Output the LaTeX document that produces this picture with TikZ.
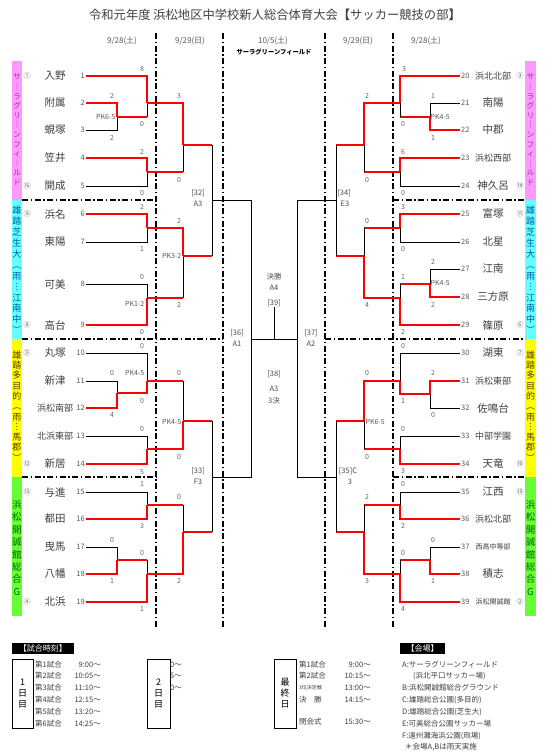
\documentclass[tikz,border=0pt]{standalone}
\usepackage{fontspec}
\setmainfont{Noto Sans CJK JP}
\usetikzlibrary{positioning}
\definecolor{pinkbar}{RGB}{255,153,255}
\definecolor{cyanbar}{RGB}{102,255,255}
\definecolor{yellowbar}{RGB}{255,255,0}
\definecolor{greenbar}{RGB}{102,255,51}
\definecolor{pinktxt}{RGB}{150,50,150}
\definecolor{cyantxt}{RGB}{0,90,170}
\definecolor{yellowtxt}{RGB}{90,60,0}
\definecolor{greentxt}{RGB}{0,100,0}
% loser of a played match: red run in, black rise
\newcommand{\lostto}[2]{\draw[win] (#1) -- (#1 -| #2); \draw[lose] (#1 -| #2) -- (#2);}
\begin{document}
\begin{tikzpicture}[x=1pt,y=-1pt,
  win/.style={draw=red,line width=2.2pt},
  lose/.style={draw=black,line width=0.8pt},
  sep/.style={line width=1.6pt,dash pattern=on 6pt off 2.5pt on 1.5pt off 2.5pt},
  tname/.style={font=\fontsize{10.5}{12}\selectfont,text=black!75},
  tnum/.style={font=\fontsize{7.5}{9}\selectfont,text=black!65,inner sep=1pt},
  score/.style={font=\fontsize{7}{8}\selectfont,text=black!60,inner sep=0pt},
  pk/.style={font=\fontsize{7}{8}\selectfont,text=black!65,inner sep=0.5pt},
  seed/.style={font=\fontsize{7}{8}\selectfont,text=black!60,inner sep=0pt},
  date/.style={font=\fontsize{8}{9}\selectfont,text=black!65},
  lbl/.style={font=\fontsize{7.5}{9}\selectfont,text=black!70,inner sep=0pt},
  vbar/.style={align=center,inner sep=0pt},
  hdr/.style={fill=black,text=white,inner sep=0pt,minimum height=11pt,font=\fontsize{8}{9}\selectfont},
  daybox/.style={draw,line width=1pt,align=center,inner sep=0pt,font=\fontsize{9}{11}\selectfont},
  row/.style={font=\fontsize{7.5}{9}\selectfont,text=black!75,inner sep=0pt}]
\useasboundingbox (0,0) rectangle (549,753);
\fill[white] (0,0) rectangle (549,753);

% side bars
\fill[pinkbar] (12,61) rectangle (22,200);
\fill[cyanbar] (12,200) rectangle (22,339);
\fill[yellowbar] (12,339) rectangle (22,477);
\fill[greenbar] (12,477) rectangle (22,616);
\fill[pinkbar] (525,61) rectangle (536,200);
\fill[cyanbar] (525,200) rectangle (536,339);
\fill[yellowbar] (525,339) rectangle (536,477);
\fill[greenbar] (525,477) rectangle (536,616);

\node[vbar,text=pinktxt,font=\fontsize{7.5}{9.6}\selectfont] (vl1) at (17,130) {サ\\｜\\ラ\\グ\\リ\\｜\\ン\\フ\\ィ\\｜\\ル\\ド};
\node[vbar,text=cyantxt,font=\fontsize{9}{10.9}\selectfont] (vl2) at (17,270) {雄\\踏\\芝\\生\\大\\︵\\雨\\︙\\江\\南\\中\\︶};
\node[vbar,text=yellowtxt,font=\fontsize{9}{10.3}\selectfont] (vl3) at (17,406) {雄\\踏\\多\\目\\的\\︵\\雨\\︙\\馬\\郡\\︶};
\node[vbar,text=greentxt,font=\fontsize{9.5}{12.4}\selectfont] (vl4) at (17,548) {浜\\松\\開\\誠\\館\\総\\合\\G};
\node[vbar,text=pinktxt,font=\fontsize{7.5}{9.6}\selectfont] (vr1) at (530.5,130) {サ\\｜\\ラ\\グ\\リ\\｜\\ン\\フ\\ィ\\｜\\ル\\ド};
\node[vbar,text=cyantxt,font=\fontsize{9}{10.9}\selectfont] (vr2) at (530.5,270) {雄\\踏\\芝\\生\\大\\︵\\雨\\︙\\江\\南\\中\\︶};
\node[vbar,text=yellowtxt,font=\fontsize{9}{10.3}\selectfont] (vr3) at (530.5,406) {雄\\踏\\多\\目\\的\\︵\\雨\\︙\\馬\\郡\\︶};
\node[vbar,text=greentxt,font=\fontsize{9.5}{12.4}\selectfont] (vr4) at (530.5,548) {浜\\松\\開\\誠\\館\\総\\合\\G};

% field separators
\foreach \x in {156,223,325,393} \draw[sep] (\x,33) -- (\x,628);
\draw[sep] (22,200) -- (156,200);
\draw[sep] (22,339) -- (223,339);
\draw[sep] (22,477) -- (156,477);
\draw[sep] (393,200) -- (525,200);
\draw[sep] (325,339) -- (525,339);
\draw[sep] (393,477) -- (525,477);

% title and days
\node[font=\fontsize{12.3}{14}\selectfont,text=black!75] (title) at (275,15) {令和元年度 浜松地区中学校新人総合体育大会{\bfseries【}サッカー競技の部{\bfseries】}};
\node[date] (d1) at (122,41) {9/28(土)};
\node[date] (d2) at (190,41) {9/29(日)};
\node[date] (d3) at (273,41) {10/5(土)};
\node[date] (d4) at (358,41) {9/29(日)};
\node[date] (d5) at (426,41) {9/28(土)};
\node[font=\bfseries\fontsize{6.3}{7}\selectfont] (field) at (274,52) {サーラグリーンフィールド};

% teams
\foreach \i/\nm/\y in {1/入野/76,2/附属/103,3/蜆塚/130,4/笠井/158,5/開成/186,6/浜名/214,7/東陽/242,8/可美/284,9/高台/325,10/丸塚/353,11/新津/381,12/{\small 浜松南部}/408,13/{\small 北浜東部}/436,14/新居/464,15/与進/492,16/都田/519,17/曳馬/547,18/八幡/574,19/北浜/602}
{
  \node[tname] (t\i) at (55,\y) {\nm};
  \node[tnum,anchor=east] (n\i) at (86,\y) {\i};
}
\foreach \i/\nm/\y in {20/{\small 浜北北部}/76,21/南陽/103,22/中郡/130,23/{\small 浜松西部}/158,24/神久呂/186,25/富塚/214,26/北星/242,27/江南/269,28/三方原/297,29/篠原/325,30/湖東/353,31/{\small 浜松東部}/381,32/佐鳴台/408,33/{\small 中部学園}/436,34/天竜/464,35/江西/492,36/{\small 浜松北部}/519,37/{\scriptsize 西高中等部}/547,38/積志/574,39/{\scriptsize 浜松開誠館}/602}
{
  \node[tname] (t\i) at (493,\y) {\nm};
  \node[tnum,anchor=west] (n\i) at (460,\y) {\i};
}
\foreach \s/\y [count=\k] in {①/76,⑯/186,⑨/214,⑧/325,⑤/353,⑫/464,⑬/492,④/602}
  \node[seed] (sdl\k) at (27,\y) {\s};
\foreach \s/\y [count=\k] in {③/76,⑭/186,⑪/214,⑥/325,⑦/353,⑩/464,⑮/492,②/602}
  \node[seed] (sdr\k) at (520,\y) {\s};

% match points
\coordinate (mA) at (117,117);
\coordinate (mB) at (147,103);
\coordinate (mC) at (147,172);
\coordinate (mD) at (183,145);
\coordinate (mE) at (147,228);
\coordinate (mF) at (147,298);
\coordinate (mG) at (183,256);
\coordinate (m32) at (212,200);
\coordinate (mH) at (117,393);
\coordinate (mI) at (147,381);
\coordinate (mJ) at (147,449);
\coordinate (mK) at (183,421);
\coordinate (mL) at (147,505);
\coordinate (mM) at (117,560);
\coordinate (mN) at (147,574);
\coordinate (mO) at (183,532);
\coordinate (m33) at (212,477);
\coordinate (m36) at (251,339);
\coordinate (rA) at (430,117);
\coordinate (rB) at (400,103);
\coordinate (rC) at (400,172);
\coordinate (rD) at (364,145);
\coordinate (rE) at (400,228);
\coordinate (rF0) at (430,284);
\coordinate (rF) at (400,298);
\coordinate (rG) at (364,256);
\coordinate (m34) at (336,200);
\coordinate (rH) at (430,394);
\coordinate (rI) at (400,381);
\coordinate (rJ) at (400,449);
\coordinate (rK) at (364,421);
\coordinate (rL) at (400,505);
\coordinate (rM) at (430,560);
\coordinate (rN) at (400,574);
\coordinate (rO) at (364,532);
\coordinate (m35) at (336,477);
\coordinate (m37) at (297,339);

% losers
\draw[lose] (n3.east) -| (mA);
\draw[lose] (n5.east) -| (mC);
\draw[lose] (n7.east) -| (mE);
\draw[lose] (n8.east) -| (mF);
\draw[lose] (n11.east) -| (mH);
\draw[lose] (n10.east) -| (mI);
\draw[lose] (n13.east) -| (mJ);
\draw[lose] (n15.east) -| (mL);
\draw[lose] (n17.east) -| (mM);
\draw[lose] (n21.west) -| (rA);
\draw[lose] (n24.west) -| (rC);
\draw[lose] (n26.west) -| (rE);
\draw[lose] (n27.west) -| (rF0);
\draw[lose] (n32.west) -| (rH);
\draw[lose] (n30.west) -| (rI);
\draw[lose] (n33.west) -| (rJ);
\draw[lose] (n35.west) -| (rL);
\draw[lose] (n37.west) -| (rM);
\draw[lose] (m32) -| (m36);
\draw[lose] (m33) -| (m36);
\draw[lose] (m34) -| (m37);
\draw[lose] (m35) -| (m37);
\draw[lose] (m36) -- (m37);
\lostto{mA}{mB}
\lostto{mC}{mD}
\lostto{mF}{mG}
\lostto{mD}{m32}
\lostto{mG}{m32}
\lostto{mI}{mK}
\lostto{mM}{mN}
\lostto{mL}{mO}
\lostto{mK}{m33}
\lostto{mO}{m33}
\lostto{rA}{rB}
\lostto{rC}{rD}
\lostto{rF0}{rF}
\lostto{rE}{rG}
\lostto{rD}{m34}
\lostto{rG}{m34}
\lostto{rJ}{rK}
\lostto{rM}{rN}
\lostto{rL}{rO}
\lostto{rK}{m35}
\lostto{rO}{m35}

% winners
\draw[win] (n2.east) -| (mA);
\draw[win] (n1.east) -| (mB);
\draw[win] (n4.east) -| (mC);
\draw[win] (mB) -| (mD);
\draw[win] (n6.east) -| (mE);
\draw[win] (n9.east) -| (mF);
\draw[win] (mE) -| (mG);
\draw[win] (n12.east) -| (mH);
\draw[win] (mH) -| (mI);
\draw[win] (n14.east) -| (mJ);
\draw[win] (mJ) -| (mK);
\draw[win] (n16.east) -| (mL);
\draw[win] (n18.east) -| (mM);
\draw[win] (n19.east) -| (mN);
\draw[win] (mN) -| (mO);
\draw[win] (n22.west) -| (rA);
\draw[win] (n20.west) -| (rB);
\draw[win] (n23.west) -| (rC);
\draw[win] (rB) -| (rD);
\draw[win] (n25.west) -| (rE);
\draw[win] (n28.west) -| (rF0);
\draw[win] (n29.west) -| (rF);
\draw[win] (rF) -| (rG);
\draw[win] (n31.west) -| (rH);
\draw[win] (rH) -| (rI);
\draw[win] (n34.west) -| (rJ);
\draw[win] (rI) -| (rK);
\draw[win] (n36.west) -| (rL);
\draw[win] (n38.west) -| (rM);
\draw[win] (n39.west) -| (rN);
\draw[win] (rN) -| (rO);

% scores
\foreach \x/\y/\s [count=\k] in {142/69/8,142/124/0,112/96/2,112/138/2,142/152/2,142/193/0,179/96/3,179/180/0,
  142/207/2,142/249/1,142/277/0,142/332/0,179/221/2,179/305/2,
  142/346/0,142/401/0,112/373/0,112/415/4,142/429/0,142/472/5,179/373/0,179/457/0,
  142/484/1,142/526/3,112/540/0,112/581/1,142/553/0,142/609/1,179/497/0,179/581/2}
  \node[score] (sl\k) at (\x,\y) {\s};
\foreach \x/\y/\s [count=\k] in {404/69/3,403/124/0,433/96/1,433/138/1,403/152/6,403/193/0,367/96/2,367/180/0,
  403/207/3,403/249/0,433/262/2,433/305/2,403/277/1,403/332/2,367/221/0,367/305/4,
  403/346/0,403/401/1,433/373/2,433/415/0,403/429/0,403/471/3,367/373/0,367/457/0,
  403/484/0,403/526/2,433/540/0,433/581/1,403/553/0,403/609/4,367/497/2,367/581/3}
  \node[score] (sr\k) at (\x,\y) {\s};

% penalty kicks
\node[pk,anchor=east] (pk1) at (116,117) {PK6-5};
\node[pk,anchor=east] (pk2) at (145,304) {PK1-2};
\node[pk,anchor=east] (pk3) at (182,256) {PK3-2};
\node[pk,anchor=east] (pk4) at (145,373) {PK4-5};
\node[pk,anchor=east] (pk5) at (182,422) {PK4-5};
\node[pk,anchor=west] (pk6) at (430,117) {PK4-5};
\node[pk,anchor=west] (pk7) at (430,283) {PK4-5};
\node[pk,anchor=west] (pk8) at (365,422) {PK6-5};

% later rounds
\node[lbl] (l32) at (198,193) {[32]};
\node[lbl] (l32b) at (198,204) {A3};
\node[lbl] (l33) at (198,471) {[33]};
\node[lbl] (l33b) at (198,482) {F3};
\node[lbl] (l34) at (344,193) {[34]};
\node[lbl] (l34b) at (345,204) {E3};
\node[lbl] (l35) at (348,471) {[35]C};
\node[lbl] (l35b) at (350,482) {3};
\node[lbl] (l36) at (237,333) {[36]};
\node[lbl] (l36b) at (237,344) {A1};
\node[lbl] (l37) at (311,333) {[37]};
\node[lbl] (l37b) at (311,344) {A2};
\node[lbl] (fin) at (274,277) {決勝};
\node[lbl] (finb) at (274,288) {A4};
\node[lbl] (l39) at (274,303) {[39]};
\draw[lose] (l39.south) -- (l39.south |- m36);
\node[lbl] (l38) at (274,374) {[38]};
\node[lbl] (l38b) at (274,389) {A3};
\node[lbl] (l38c) at (274,401) {3決};

% times
\node[hdr,minimum width=62pt] (jikoku) at (43,648) {【試合時刻】};
\node[daybox,minimum width=21pt,minimum height=69pt] (day1) at (22.5,693.5) {1\\日\\目};
\foreach \t/\h/\y [count=\k] in {第1試合/9:00～/665,第2試合/10:05～/676,第3試合/11:10～/688,第4試合/12:15～/700,第5試合/13:20～/712,第6試合/14:25～/724}
{
  \node[row,anchor=west] (ga\k) at (35,\y) {\t};
  \node[row,anchor=east] (gb\k) at (101,\y) {\h};
}
\node[daybox,minimum width=23pt,minimum height=69pt] (day2) at (158.5,693.5) {2\\日\\目};
\foreach \h/\y [count=\k] in {0～/665,5～/676,0～/688}
  \node[row,anchor=west] (gc\k) at (170,\y) {\h};
\node[daybox,minimum width=22pt,minimum height=69pt] (day3) at (285,693.5) {最\\終\\日};
\foreach \t/\h/\y [count=\k] in {第1試合/9:00～/665,第2試合/10:15～/676,{\fontsize{5}{6}\selectfont 3位決定戦}/13:00～/688,決　勝/14:15～/700,閉会式/15:30～/722}
{
  \node[row,anchor=west] (gd\k) at (299,\y) {\t};
  \node[row,anchor=east] (ge\k) at (371,\y) {\h};
}

% venues
\node[hdr,minimum width=45pt] (kaijo) at (422.5,648) {【会場】};
\foreach \t/\x/\y [count=\k] in {A:サーラグリーンフィールド/402/665,(浜北平口サッカー場)/413/676,B:浜松開誠館総合グラウンド/402/688,C:雄踏総合公園(多目的)/402/700,D:雄踏総合公園(芝生大)/402/712,E:可美総合公園サッカー場/402/724,F:遠州灘海浜公園(凧場)/402/736,＊会場A{,}Bは雨天実施/405/747}
  \node[row,anchor=west] (v\k) at (\x,\y) {\t};
\end{tikzpicture}
\end{document}
